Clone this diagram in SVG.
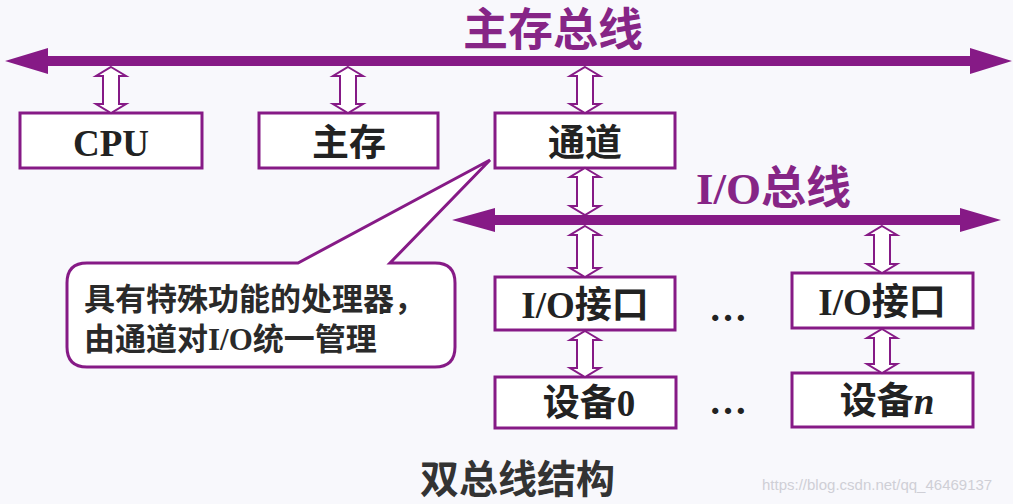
<svg xmlns="http://www.w3.org/2000/svg" width="1013" height="504" viewBox="0 0 1013 504">
<style>
.bg{fill:#f8f8fc}
.bus{fill:#861a86}
.box{fill:#ffffff;stroke:#861a86;stroke-width:3}
.dbl{fill:#ffffff;stroke:#861a86;stroke-width:2;stroke-linejoin:miter}
.lbl{font-family:"Liberation Serif","Noto Sans CJK SC",serif;font-weight:bold;font-size:37px;fill:#222222;text-anchor:middle}
.title{font-family:"Liberation Serif","Noto Sans CJK SC",serif;font-weight:bold;font-size:45px;fill:#862586}
.note{font-family:"Liberation Serif","Noto Sans CJK SC",serif;font-weight:bold;font-size:31px;fill:#2a2a2a}
.cap{font-family:"Liberation Serif","Noto Sans CJK SC",serif;font-weight:bold;font-size:39px;fill:#333333}
.dots{font-family:"Liberation Serif",serif;font-weight:bold;font-size:38px;fill:#222222;text-anchor:middle}
.wm{font-family:"Liberation Sans",sans-serif;font-size:15px;fill:#cfcfd6}
</style>
<rect class="bg" x="0" y="0" width="1013" height="504"/>

<g id="main-bus">
<polygon class="bus" points="5,61 48,48 48,56 970,56 970,48 1012,61 970,74 970,66 48,66 48,74"/>
<text class="title" x="463" y="46">主存总线</text>
</g>

<g id="io-bus">
<polygon class="bus" points="452,220 495,208 495,215 960,215 960,208 1001,220 960,232 960,225 495,225 495,232"/>
<text class="title" x="696" y="204">I/O总线</text>
</g>

<g id="cpu">
<rect class="box" x="20" y="113" width="182" height="55"/>
<text class="lbl" x="111" y="156">CPU</text>
</g>

<g id="mem">
<rect class="box" x="259" y="113" width="179" height="55"/>
<text class="lbl" x="349" y="156">主存</text>
</g>

<g id="channel">
<rect class="box" x="495" y="113" width="180" height="55"/>
<text class="lbl" x="585" y="156">通道</text>
</g>

<g id="io-if-0">
<rect class="box" x="495" y="277" width="180" height="53"/>
<text class="lbl" x="585" y="318">I/O接口</text>
</g>

<g id="io-if-n">
<rect class="box" x="792" y="273" width="181" height="55"/>
<text class="lbl" x="882" y="315">I/O接口</text>
</g>

<g id="dev-0">
<rect class="box" x="495" y="377" width="181" height="51"/>
<text class="lbl" x="589" y="416">设备0</text>
</g>

<g id="dev-n">
<rect class="box" x="792" y="373" width="181" height="54"/>
<text class="lbl" x="887" y="414">设备<tspan font-style="italic">n</tspan></text>
</g>

<g id="dots">
<text class="dots" x="728" y="321">…</text>
<text class="dots" x="728" y="414">…</text>
</g>

<g id="callout">
<path class="box" d="M87,263 L298,263 L490,160 L390,263 L435,263 Q455,263 455,283 L455,347 Q455,367 435,367 L87,367 Q67,367 67,347 L67,283 Q67,263 87,263 Z"/>
<text class="note" x="84" y="310">具有特殊功能的处理器，</text>
<text class="note" x="84" y="350">由通道对I/O统一管理</text>
</g>

<g id="connectors">
<path class="dbl" d="M111,67 L126,76 L119,76 L119,104 L126,104 L111,113 L96,104 L103,104 L103,76 L96,76 Z"/>
<path class="dbl" d="M348,67 L363,76 L356,76 L356,104 L363,104 L348,113 L333,104 L340,104 L340,76 L333,76 Z"/>
<path class="dbl" d="M585,67 L600,76 L593,76 L593,104 L600,104 L585,113 L570,104 L577,104 L577,76 L570,76 Z"/>
<path class="dbl" d="M585,168 L600,177 L593,177 L593,206 L600,206 L585,215 L570,206 L577,206 L577,177 L570,177 Z"/>
<path class="dbl" d="M585,226 L600,235 L593,235 L593,268 L600,268 L585,277 L570,268 L577,268 L577,235 L570,235 Z"/>
<path class="dbl" d="M882,226 L897,235 L890,235 L890,264 L897,264 L882,273 L867,264 L874,264 L874,235 L867,235 Z"/>
<path class="dbl" d="M585,331 L600,340 L593,340 L593,368 L600,368 L585,377 L570,368 L577,368 L577,340 L570,340 Z"/>
<path class="dbl" d="M882,329 L897,338 L890,338 L890,364 L897,364 L882,373 L867,364 L874,364 L874,338 L867,338 Z"/>
</g>

<g id="caption">
<text class="cap" x="420" y="493">双总线结构</text>
</g>

<text class="wm" x="762" y="490">https://blog.csdn.net/qq_46469137</text>
</svg>
